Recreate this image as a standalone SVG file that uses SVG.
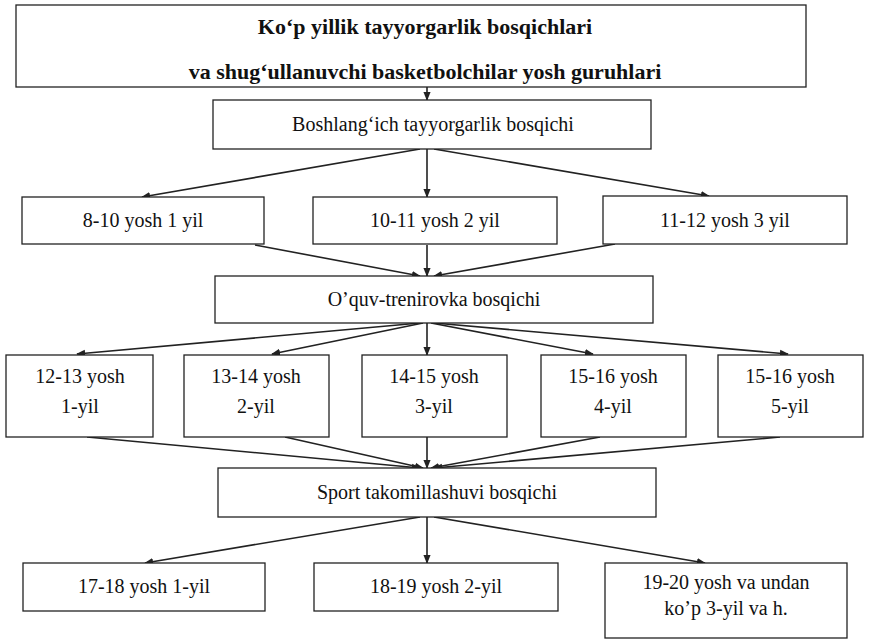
<svg xmlns="http://www.w3.org/2000/svg" width="869" height="644" viewBox="0 0 869 644">
<defs>
<style>
.box{fill:#fff;stroke:#222;stroke-width:1.3}
.t{font-family:"Liberation Serif","Times New Roman",serif;font-size:20px;fill:#111;text-anchor:middle}
.b{font-weight:bold;font-size:22px}
.c{stroke:#222;stroke-width:1.6;fill:none;marker-end:url(#ah)}
</style>
<marker id="ah" viewBox="0 0 10 10" refX="9" refY="5" markerWidth="9" markerHeight="9" markerUnits="userSpaceOnUse" orient="auto">
<path d="M0,1 L10,5 L0,9 z" fill="#222"/>
</marker>
</defs>
<rect width="869" height="644" fill="#fff"/>
<g id="connectors">
<path class="c" d="M427,87 L427,100"/>
<path class="c" d="M420,149 L142,197"/>
<path class="c" d="M427,149 L427,197"/>
<path class="c" d="M434,149 L709,196"/>
<path class="c" d="M255,245 L420,276"/>
<path class="c" d="M427,245 L427,276"/>
<path class="c" d="M615,244 L434,276"/>
<path class="c" d="M420,323 L77,354"/>
<path class="c" d="M423,323 L272,354"/>
<path class="c" d="M427,323 L427,355"/>
<path class="c" d="M431,323 L593,354"/>
<path class="c" d="M434,323 L788,354"/>
<path class="c" d="M87,437 L420,468"/>
<path class="c" d="M285,437 L423,468"/>
<path class="c" d="M427,437 L427,468"/>
<path class="c" d="M600,437 L431,468"/>
<path class="c" d="M780,437 L434,468"/>
<path class="c" d="M420,517 L145,563"/>
<path class="c" d="M427,517 L427,563"/>
<path class="c" d="M434,517 L705,563"/>
</g>
<g id="n-top">
<rect class="box" x="16" y="5" width="790" height="82"/>
<text class="t b" x="425" y="34">Ko‘p yillik tayyorgarlik bosqichlari</text>
<text class="t b" x="425" y="79">va shug‘ullanuvchi basketbolchilar yosh guruhlari</text>
</g>
<g id="n-boshlang">
<rect class="box" x="213" y="100" width="438" height="49"/>
<text class="t" x="433" y="131">Boshlang‘ich tayyorgarlik bosqichi</text>
</g>
<g id="n-8-10">
<rect class="box" x="22" y="197" width="242" height="47"/>
<text class="t" x="143" y="227">8-10 yosh 1 yil</text>
</g>
<g id="n-10-11">
<rect class="box" x="313" y="197" width="244" height="47"/>
<text class="t" x="435" y="227">10-11 yosh 2 yil</text>
</g>
<g id="n-11-12">
<rect class="box" x="603" y="196" width="244" height="48"/>
<text class="t" x="725" y="227">11-12 yosh 3 yil</text>
</g>
<g id="n-oquv">
<rect class="box" x="215" y="276" width="438" height="47"/>
<text class="t" x="434" y="306">O’quv-trenirovka bosqichi</text>
</g>
<g id="n-12-13">
<rect class="box" x="6" y="355" width="147" height="82"/>
<text class="t" x="80" y="383">12-13 yosh</text>
<text class="t" x="80" y="413">1-yil</text>
</g>
<g id="n-13-14">
<rect class="box" x="184" y="355" width="145" height="82"/>
<text class="t" x="256" y="383">13-14 yosh</text>
<text class="t" x="256" y="413">2-yil</text>
</g>
<g id="n-14-15">
<rect class="box" x="362" y="355" width="145" height="82"/>
<text class="t" x="434" y="383">14-15 yosh</text>
<text class="t" x="434" y="413">3-yil</text>
</g>
<g id="n-15-16a">
<rect class="box" x="541" y="355" width="145" height="82"/>
<text class="t" x="613" y="383">15-16 yosh</text>
<text class="t" x="613" y="413">4-yil</text>
</g>
<g id="n-15-16b">
<rect class="box" x="718" y="355" width="145" height="82"/>
<text class="t" x="790" y="383">15-16 yosh</text>
<text class="t" x="790" y="413">5-yil</text>
</g>
<g id="n-sport">
<rect class="box" x="218" y="468" width="438" height="49"/>
<text class="t" x="437" y="499">Sport takomillashuvi bosqichi</text>
</g>
<g id="n-17-18">
<rect class="box" x="23" y="563" width="242" height="48"/>
<text class="t" x="144" y="593">17-18 yosh 1-yil</text>
</g>
<g id="n-18-19">
<rect class="box" x="314" y="563" width="244" height="48"/>
<text class="t" x="436" y="593">18-19 yosh 2-yil</text>
</g>
<g id="n-19-20">
<rect class="box" x="605" y="563" width="242" height="75"/>
<text class="t" x="726" y="589">19-20 yosh va undan</text>
<text class="t" x="726" y="615">ko’p 3-yil va h.</text>
</g>
</svg>
